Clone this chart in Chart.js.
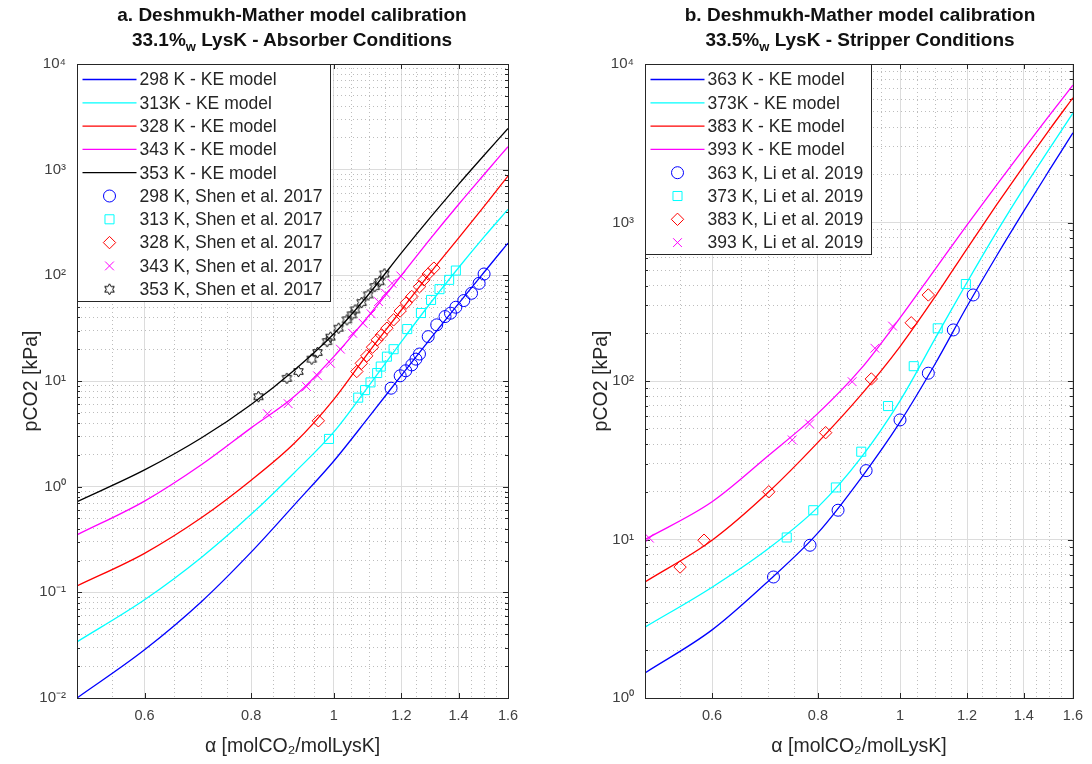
<!DOCTYPE html>
<html>
<head>
<meta charset="utf-8">
<script src="https://cdn.jsdelivr.net/npm/chart.js@4.4.1/dist/chart.umd.min.js"></script>
<style>
  html, body { margin: 0; padding: 0; background: #fff; }
  #wrap { position: relative; width: 1092px; height: 764px; font-family: "Liberation Sans", Arial, Helvetica, sans-serif; }
  #wrap canvas { position: absolute; top: 0; }
  .ttl { position: absolute; top: 2px; width: 520px; text-align: center; font-weight: bold; font-size: 19px; line-height: 25px; color: #111; }
  .ttl sub { font-size: 13px; line-height: 0; vertical-align: -5px; }
</style>
</head>
<body>
<div id="wrap">
  <canvas id="chartA" width="546" height="764" style="left:0"></canvas>
  <canvas id="chartB" width="546" height="764" style="left:546px"></canvas>
  <div class="ttl" style="left:32px">a. Deshmukh-Mather model calibration<br>33.1%<sub>w</sub> LysK - Absorber Conditions</div>
  <div class="ttl" style="left:600px">b. Deshmukh-Mather model calibration<br>33.5%<sub>w</sub> LysK - Stripper Conditions</div>
</div>
<script>
const FONT = '"Liberation Sans", Arial, Helvetica, sans-serif'
Chart.defaults.font.family = FONT
Chart.defaults.color = '#404040'

const alphaModel = [0.5, 0.6, 0.7, 0.8, 0.9, 1.0, 1.1, 1.2, 1.3, 1.4, 1.5, 1.6]

// panel a - absorber, KE model
const model298 = [0.01, 0.0286, 0.082, 0.24, 0.68, 1.75, 4.6, 11.3, 25.6, 54, 107, 202]
const model313 = [0.034, 0.085, 0.215, 0.547, 1.37, 3.3, 9.1, 23.6, 55.6, 118, 231, 421]
const model328 = [0.115, 0.234, 0.51, 1.15, 2.6, 6.7, 19, 47, 108, 225, 450, 870]
const model343 = [0.35, 0.73, 1.62, 3.6, 7.2, 17, 42, 100, 226, 468, 900, 1650]
const model353 = [0.72, 1.44, 2.9, 6.0, 12.8, 28, 67, 163, 359, 726, 1370, 2450]

// panel a - Shen et al. 2017
const alpha298 = [1.167, 1.196, 1.214, 1.234, 1.248, 1.26, 1.29, 1.32, 1.35, 1.37, 1.39, 1.42, 1.45, 1.48, 1.50]
const pco2_298 = [8.55, 11.2, 12.5, 14.2, 16.1, 18, 26.3, 34, 40.7, 43.8, 49.9, 57.7, 67.6, 84, 103]
const alpha313 = [0.987, 1.068, 1.088, 1.104, 1.124, 1.135, 1.154, 1.175, 1.219, 1.265, 1.3, 1.33, 1.365, 1.39]
const pco2_313 = [2.83, 6.96, 8.2, 9.7, 11.9, 13.7, 17, 20, 31, 44, 58.5, 74, 90.6, 111]
const alpha328 = [0.959, 1.064, 1.077, 1.093, 1.11, 1.124, 1.137, 1.154, 1.175, 1.196, 1.216, 1.234, 1.26, 1.275, 1.29, 1.31]
const pco2_328 = [4.2, 12.3, 14.7, 17.3, 20.9, 24.5, 27.3, 31.6, 37.9, 46, 55, 63, 78, 90.6, 103, 117]
const alpha343 = [0.836, 0.884, 0.929, 0.957, 0.991, 1.018, 1.052, 1.082, 1.106, 1.128, 1.15, 1.17, 1.198]
const pco2_343 = [4.9, 6.1, 8.85, 11.2, 14.7, 20, 28.3, 35.2, 43.2, 56.4, 67.6, 84, 98.7]
const alpha353 = [0.816, 0.881, 0.909, 0.942, 0.957, 0.982, 0.991, 1.013, 1.036, 1.05, 1.059, 1.078, 1.097, 1.117, 1.131, 1.146]
const pco2_353 = [7.1, 10.6, 12.3, 16.1, 18.6, 23.6, 26, 31.6, 37.9, 42.3, 47.1, 55.2, 65.3, 78.2, 87, 103]

// panel b - stripper, KE model
const model363 = [1.44, 2.69, 5.5, 11, 24.5, 55, 128, 296, 615, 1180, 2130, 3680]
const model373 = [2.8, 5.0, 8.8, 16, 33, 75, 185, 420, 870, 1650, 2900, 4900]
const model383 = [5.4, 9.9, 20, 41, 82, 165, 340, 685, 1290, 2280, 3830, 6120]
const model393 = [10, 17.3, 34, 62.5, 120, 250, 507, 966, 1720, 2910, 4720, 7360]

// panel b - Li et al. 2019
const alpha363 = [0.709, 0.783, 0.845, 0.912, 1.0, 1.08, 1.156, 1.22]
const pco2_363 = [5.8, 9.2, 15.3, 27.2, 56.8, 112, 210, 349]
const alpha373 = [0.735, 0.79, 0.84, 0.9, 0.968, 1.038, 1.108, 1.196]
const pco2_373 = [10.3, 15.3, 21.3, 35.8, 69.5, 124, 215, 409]
const alpha383 = [0.55, 0.587, 0.7, 0.817, 0.925, 1.031, 1.08]
const pco2_383 = [6.7, 9.9, 20, 47.2, 103, 233, 349]
const alpha393 = [0.506, 0.746, 0.782, 0.878, 0.934, 0.98]
const pco2_393 = [10.2, 42.5, 53.6, 99, 161, 222]

// ticks
const xTicks = [0.6, 0.8, 1, 1.2, 1.4, 1.6]
const xMinor = [0.55, 0.65, 0.7, 0.75, 0.85, 0.9, 0.95, 1.05, 1.1, 1.15, 1.25, 1.3, 1.35, 1.45, 1.5, 1.55]
const yDecadesA = [1e-2, 1e-1, 1, 10, 100, 1000, 1e4]
const yLabelsA = ['10⁻²', '10⁻¹', '10⁰', '10¹', '10²', '10³', '10⁴']
const yDecadesB = [1, 10, 100, 1000, 1e4]
const yLabelsB = ['10⁰', '10¹', '10²', '10³', '10⁴']

const pts = (xs, ys) => xs.map((x, i) => ({ x, y: ys[i] }))

// matlab-ish hexagram marker
function hexagram(size, color) {
  const c = document.createElement('canvas')
  c.width = c.height = size
  const g = c.getContext('2d')
  const r = size / 2 - 1, ri = r / Math.sqrt(3), m = size / 2
  g.beginPath()
  for (let k = 0; k < 12; k++) {
    const ang = -Math.PI / 2 + k * Math.PI / 6
    const rr = k % 2 ? ri : r
    const px = m + rr * Math.cos(ang), py = m + rr * Math.sin(ang)
    k ? g.lineTo(px, py) : g.moveTo(px, py)
  }
  g.closePath()
  g.strokeStyle = color
  g.lineWidth = 1
  g.stroke()
  return c
}
const hexMark = hexagram(13, '#000')

function curve(label, ys, color) {
  return {
    label, data: pts(alphaModel, ys), showLine: true,
    borderColor: color, borderWidth: 1.3, pointRadius: 0, pointHoverRadius: 0,
    cubicInterpolationMode: 'monotone'
  }
}
function marks(label, xs, ys, color, style, r) {
  return {
    label, data: pts(xs, ys), showLine: false,
    pointStyle: style, pointRadius: r, pointHoverRadius: r,
    pointBorderColor: color, borderColor: color,
    pointBackgroundColor: 'rgba(0,0,0,0)', pointBorderWidth: 1
  }
}

const isMinorX = v => !xTicks.includes(v)

function xScale() {
  return {
    type: 'logarithmic', min: 0.5, max: 1.6,
    afterBuildTicks: s => { s.ticks = xTicks.concat(xMinor).sort((a, b) => a - b).map(v => ({ value: v })) },
    afterFit: s => { s.height = 66 },
    ticks: {
      autoSkip: false, maxRotation: 0, padding: 9, color: '#404040', font: { size: 14.5 },
      callback: v => xTicks.includes(v) ? String(v) : ''
    },
    grid: { drawTicks: false, lineWidth: 1, color: c => (c.tick && isMinorX(c.tick.value)) ? '#bdbdbd' : '#dcdcdc' },
    border: { display: false, dash: c => (c.tick && isMinorX(c.tick.value)) ? [1, 3] : [] },
    title: { display: true, text: 'α [molCO₂/molLysK]', color: '#262626', font: { size: 19.5 }, padding: { top: 0, bottom: 6 } }
  }
}

function yScale(decades, labels, width, titlePad) {
  const minor = []
  decades.slice(0, -1).forEach(d => { for (let m = 2; m <= 9; m++) minor.push(d * m) })
  const all = decades.concat(minor).sort((a, b) => a - b)
  const isMinor = v => !decades.includes(v)
  return {
    type: 'logarithmic', min: decades[0], max: decades[decades.length - 1],
    afterBuildTicks: s => { s.ticks = all.map(v => ({ value: v })) },
    afterFit: s => { s.width = width },
    ticks: {
      autoSkip: false, padding: 11, color: '#404040', font: { size: 15 },
      callback: v => decades.includes(v) ? labels[decades.indexOf(v)] : ''
    },
    grid: { drawTicks: false, lineWidth: 1, color: c => (c.tick && isMinor(c.tick.value)) ? '#bdbdbd' : '#dcdcdc' },
    border: { display: false, dash: c => (c.tick && isMinor(c.tick.value)) ? [1, 3] : [] },
    title: { display: true, text: 'pCO2 [kPa]', color: '#262626', font: { size: 19.5 }, padding: { top: titlePad, bottom: 0 } }
  }
}

// inward tick marks + axes box
const axisFrame = {
  id: 'axisFrame',
  beforeDatasetsDraw(chart) {
    const { ctx, chartArea: a, scales: { x, y } } = chart
    ctx.save()
    ctx.strokeStyle = '#262626'
    ctx.lineWidth = 1
    ctx.beginPath()
    xTicks.forEach(v => {
      const px = Math.round(x.getPixelForValue(v)) + 0.5
      ctx.moveTo(px, a.bottom); ctx.lineTo(px, a.bottom - 5)
      ctx.moveTo(px, a.top); ctx.lineTo(px, a.top + 5)
    })
    y.ticks.forEach(t => {
      const len = t.label ? 5 : 3
      const py = Math.round(y.getPixelForValue(t.value)) + 0.5
      ctx.moveTo(a.left, py); ctx.lineTo(a.left + len, py)
      ctx.moveTo(a.right, py); ctx.lineTo(a.right - len, py)
    })
    ctx.stroke()
    ctx.restore()
  },
  afterDraw(chart) {
    const { ctx, chartArea: a } = chart
    ctx.save()
    ctx.strokeStyle = '#262626'
    ctx.lineWidth = 1
    const l = Math.round(a.left) + 0.5, t = Math.round(a.top) + 0.5
    ctx.strokeRect(l, t, Math.round(a.right) - Math.round(a.left), Math.round(a.bottom) - Math.round(a.top))
    ctx.restore()
  }
}

// legend box inside the axes, upper left
const boxLegend = {
  id: 'boxLegend',
  afterDatasetsDraw(chart) {
    const { ctx, chartArea: a } = chart
    const ds = chart.data.datasets
    ctx.save()
    ctx.font = '17.5px ' + FONT
    const tw = Math.max(...ds.map(d => ctx.measureText(d.label).width))
    const x0 = Math.round(a.left) + 0.5, y0 = Math.round(a.top) + 0.5
    const pitch = 23.3
    const w = Math.round(62 + tw + 8), h = Math.round(15 + (ds.length - 1) * pitch + 12)
    ctx.fillStyle = '#fff'
    ctx.fillRect(x0, y0, w, h)
    ctx.strokeStyle = '#262626'
    ctx.lineWidth = 1
    ctx.strokeRect(x0, y0, w, h)
    ds.forEach((d, i) => {
      const cy = y0 + 15 + i * pitch
      if (d.showLine) {
        ctx.strokeStyle = d.borderColor
        ctx.lineWidth = d.borderWidth
        ctx.beginPath()
        ctx.moveTo(x0 + 5, cy); ctx.lineTo(x0 + 59, cy)
        ctx.stroke()
      } else {
        ctx.strokeStyle = d.pointBorderColor
        ctx.fillStyle = 'rgba(0,0,0,0)'
        ctx.lineWidth = 1
        Chart.helpers.drawPoint(ctx, { pointStyle: d.pointStyle, radius: d.pointRadius, rotation: 0, borderWidth: 1 }, x0 + 32, cy)
      }
      ctx.fillStyle = '#262626'
      ctx.textAlign = 'left'
      ctx.textBaseline = 'middle'
      ctx.fillText(d.label, x0 + 62, cy + 1)
    })
    ctx.restore()
  }
}

function makeChart(id, datasets, yDec, yLab, yWidth, titlePad, padRight) {
  return new Chart(document.getElementById(id), {
    type: 'scatter',
    data: { datasets },
    options: {
      responsive: false, animation: false, events: [],
      layout: { padding: { top: 64, right: padRight, left: 0, bottom: 0 } },
      scales: { x: xScale(), y: yScale(yDec, yLab, yWidth, titlePad) },
      plugins: { legend: { display: false }, tooltip: { enabled: false } }
    },
    plugins: [axisFrame, boxLegend]
  })
}

makeChart('chartA', [
  curve('298 K - KE model', model298, '#0000ff'),
  curve('313K - KE model', model313, '#00ffff'),
  curve('328 K - KE model', model328, '#ff0000'),
  curve('343 K - KE model', model343, '#ff00ff'),
  curve('353 K - KE model', model353, '#000000'),
  marks('298 K, Shen et al. 2017', alpha298, pco2_298, '#0000ff', 'circle', 6),
  marks('313 K, Shen et al. 2017', alpha313, pco2_313, '#00ffff', 'rect', 6.4),
  marks('328 K, Shen et al. 2017', alpha328, pco2_328, '#ff0000', 'rectRot', 6.2),
  marks('343 K, Shen et al. 2017', alpha343, pco2_343, '#ff00ff', 'crossRot', 6.2),
  marks('353 K, Shen et al. 2017', alpha353, pco2_353, '#000000', hexMark, 6)
], yDecadesA, yLabelsA, 77, 20, 38)

makeChart('chartB', [
  curve('363 K - KE model', model363, '#0000ff'),
  curve('373K - KE model', model373, '#00ffff'),
  curve('383 K - KE model', model383, '#ff0000'),
  curve('393 K - KE model', model393, '#ff00ff'),
  marks('363 K, Li et al. 2019', alpha363, pco2_363, '#0000ff', 'circle', 6),
  marks('373 K, Li et al. 2019', alpha373, pco2_373, '#00ffff', 'rect', 6.4),
  marks('383 K, Li et al. 2019', alpha383, pco2_383, '#ff0000', 'rectRot', 6.2),
  marks('393 K, Li et al. 2019', alpha393, pco2_393, '#ff00ff', 'crossRot', 6.2)
], yDecadesB, yLabelsB, 99, 44, 17)
</script>
</body>
</html>
